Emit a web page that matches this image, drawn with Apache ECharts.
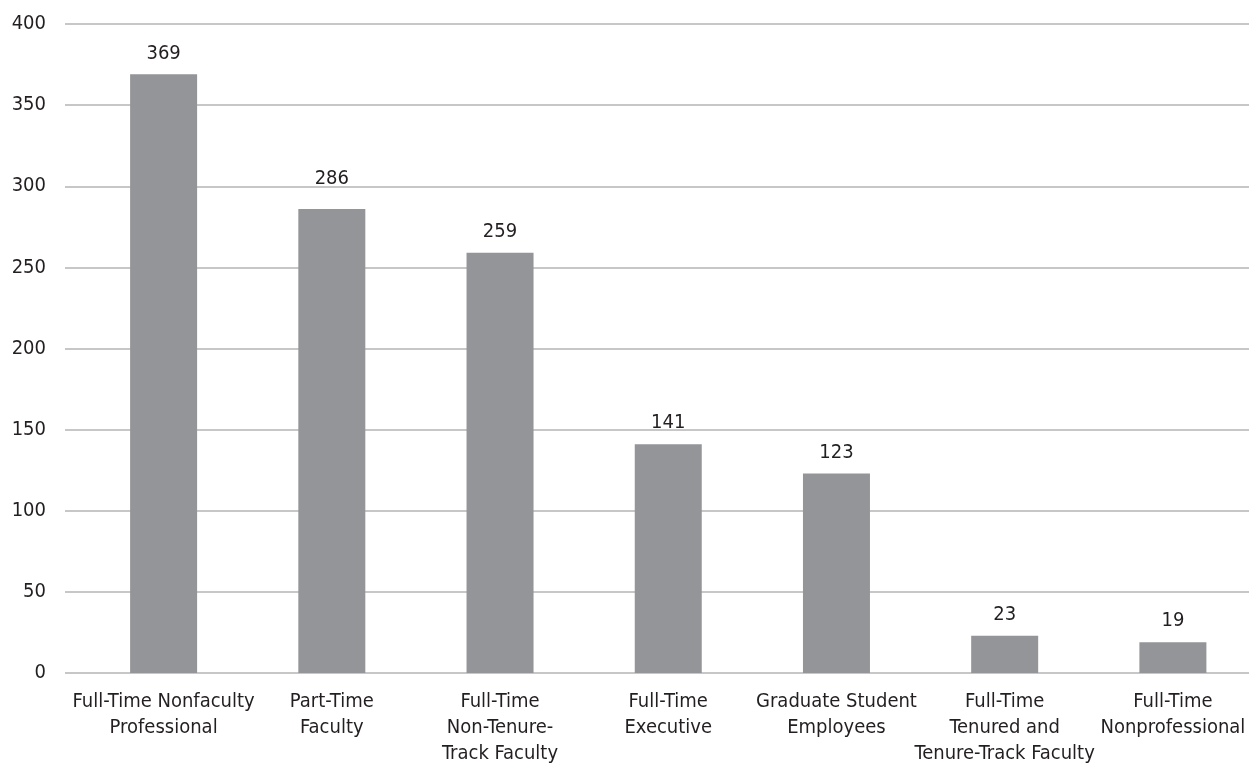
<!DOCTYPE html>
<html>
<head>
<meta charset="utf-8">
<script src="https://cdn.jsdelivr.net/npm/echarts@6/dist/echarts.min.js"></script>
<style>
  html, body { margin: 0; padding: 0; background: #fff; overflow: hidden; }
  #chart { width: 1270px; height: 767px; }
</style>
</head>
<body>
<div id="chart"></div>
<script>
// Employee categories and their counts
const categories = [
  'Full-Time Nonfaculty\nProfessional',
  'Part-Time\nFaculty',
  'Full-Time\nNon-Tenure-\nTrack Faculty',
  'Full-Time\nExecutive',
  'Graduate Student\nEmployees',
  'Full-Time\nTenured and\nTenure-Track Faculty',
  'Full-Time\nNonprofessional'
];
const counts = [369, 286, 259, 141, 123, 23, 19];

const FONT = '"DejaVu Sans Condensed", "Liberation Sans", sans-serif';
const TEXT = '#231f20';
const GRID_LINE = '#b5b5b5';
const BAR = '#939598';

// the "Part-Time Faculty" value label is lifted clear of the 300 gridline
const raisedLabel = { 1: 20 };
const barData = counts.map((v, i) =>
  raisedLabel[i] ? { value: v, label: { distance: raisedLabel[i] } } : v
);

const chart = echarts.init(document.getElementById('chart'));
chart.setOption({
  animation: false,
  backgroundColor: '#fff',
  textStyle: { fontFamily: FONT },
  grid: [
    // gridlines and value labels span the full page width
    { left: 65, top: 24, width: 1184, height: 649, containLabel: false },
    // bars sit in their own band, running a little past the right edge
    { left: 79.5, top: 24, width: 1177.5, height: 649, containLabel: false }
  ],
  xAxis: [
    { gridIndex: 0, type: 'category', data: [''], show: false },
    {
      gridIndex: 1,
      type: 'category',
      data: categories,
      axisLine: { show: false },
      axisTick: { show: false },
      axisLabel: {
        interval: 0,
        margin: 16,
        fontFamily: FONT,
        fontSize: 20,
        lineHeight: 26,
        color: TEXT
      }
    }
  ],
  yAxis: [
    {
      gridIndex: 0,
      type: 'value',
      min: 0,
      max: 400,
      interval: 50,
      axisLine: { show: false },
      axisTick: { show: false },
      splitLine: { lineStyle: { color: GRID_LINE, width: 1.5 } },
      axisLabel: {
        margin: 19,
        fontFamily: FONT,
        fontSize: 20,
        color: TEXT
      }
    },
    {
      gridIndex: 1,
      type: 'value',
      min: 0,
      max: 400,
      interval: 50,
      show: false,
      splitLine: { show: false }
    }
  ],
  series: [
    {
      type: 'bar',
      xAxisIndex: 1,
      yAxisIndex: 1,
      data: barData,
      barWidth: 67,
      itemStyle: { color: BAR },
      label: {
        show: true,
        position: 'top',
        distance: 11,
        fontFamily: FONT,
        fontSize: 20,
        color: TEXT
      }
    }
  ]
});
</script>
</body>
</html>
